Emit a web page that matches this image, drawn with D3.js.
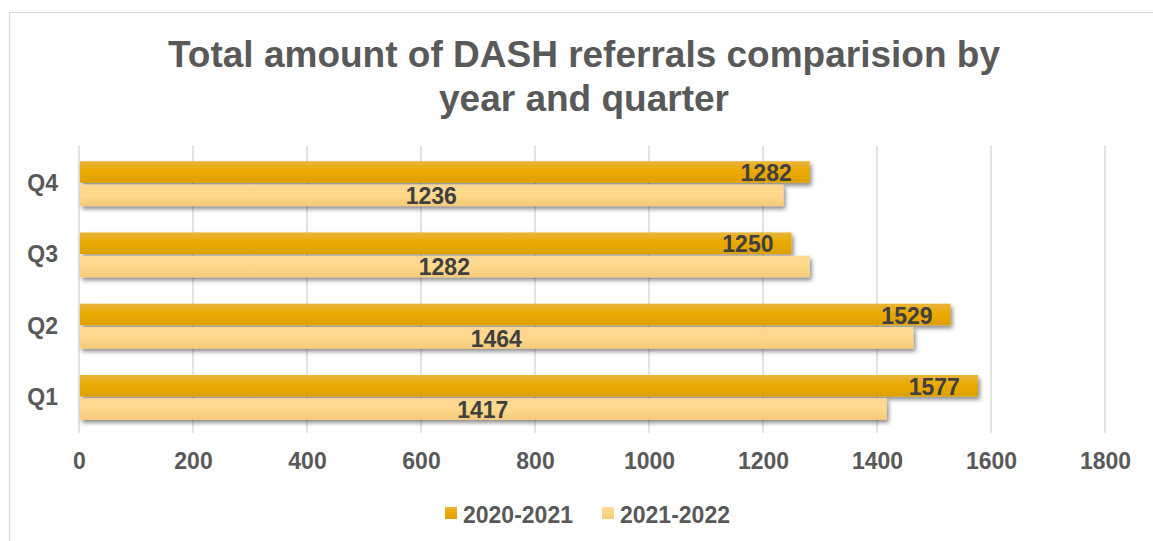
<!DOCTYPE html>
<html><head><meta charset="utf-8">
<script src="https://cdn.jsdelivr.net/npm/d3@7"></script>
<style>body{margin:0;background:#fff;font-family:Arial,"Liberation Sans",sans-serif;}</style>
</head><body>
<svg id="c" width="1153" height="541"></svg>
<script>
const categories = ["Q1","Q2","Q3","Q4"];
const seriesNames = ["2020-2021","2021-2022"];
const values2020 = [1577,1529,1250,1282];
const values2021 = [1417,1464,1282,1236];
const xTicks = [0,200,400,600,800,1000,1200,1400,1600,1800];
const titleLines = ["Total amount of DASH referrals comparision by","year and quarter"];

const FONT = "Arial,'Liberation Sans',sans-serif";
const svg = d3.select("#c");
const defs = svg.append("defs");
const f = defs.append("filter").attr("id","sh").attr("x","-5%").attr("y","-30%").attr("width","115%").attr("height","190%");
f.append("feDropShadow").attr("dx",2).attr("dy",3).attr("stdDeviation",2).attr("flood-color","#000").attr("flood-opacity",0.45);
const g1 = defs.append("linearGradient").attr("id","g1").attr("x1",0).attr("x2",0).attr("y1",0).attr("y2",1);
g1.append("stop").attr("offset","0%").attr("stop-color","#E9B43E");
g1.append("stop").attr("offset","45%").attr("stop-color","#EBAA00");
g1.append("stop").attr("offset","100%").attr("stop-color","#DDA000");
const g2 = defs.append("linearGradient").attr("id","g2").attr("x1",0).attr("x2",0).attr("y1",0).attr("y2",1);
g2.append("stop").attr("offset","0%").attr("stop-color","#FDD793");
g2.append("stop").attr("offset","50%").attr("stop-color","#FED88C");
g2.append("stop").attr("offset","100%").attr("stop-color","#F6CA78");
const fills = ["url(#g1)","url(#g2)"];

// chart border
svg.append("rect").attr("x",9.5).attr("y",12.5).attr("width",1160).attr("height",540)
  .attr("fill","none").attr("stroke","#d9d9d9").attr("stroke-width",1.2);

const x = d3.scaleLinear().domain([0,1800]).range([79,1105]);
const y = d3.scaleBand().domain(categories.slice().reverse()).range([148,433]).paddingInner(0.37).paddingOuter(0.185);
const ySub = d3.scaleBand().domain(seriesNames).range([0,y.bandwidth()]).paddingInner(0.07);

// title
svg.append("g").selectAll("text").data(titleLines).join("text")
  .attr("x",584).attr("y",(d,i)=>67+i*44).attr("text-anchor","middle")
  .attr("font-size",37).attr("font-weight","bold").attr("fill","#595959").text(d=>d);

// grid
svg.append("g").selectAll("line").data(xTicks).join("line")
  .attr("x1",d=>x(d)).attr("x2",d=>x(d)).attr("y1",146).attr("y2",433)
  .attr("stroke","#d9d9d9").attr("stroke-width",1.5);

// x axis labels
const xa = svg.append("g").attr("transform","translate(0,432)")
  .call(d3.axisBottom(x).tickValues(xTicks).tickSize(0).tickPadding(21).tickFormat(d3.format("d")));
xa.select(".domain").remove();
xa.selectAll("text").attr("font-size",23).attr("font-weight","bold").attr("fill","#595959").attr("font-family",FONT);

// y axis labels
const ya = svg.append("g").attr("transform","translate(79,0)")
  .call(d3.axisLeft(y).tickSize(0).tickPadding(21));
ya.select(".domain").remove();
ya.selectAll("text").attr("font-size",23).attr("font-weight","bold").attr("fill","#595959").attr("font-family",FONT);

const data = categories.map((c,i)=>({cat:c, vals:[values2020[i],values2021[i]]}));
const groups = svg.append("g").selectAll("g").data(data).join("g")
  .attr("transform",d=>`translate(0,${y(d.cat)})`);

groups.selectAll("rect").data(d=>d.vals.map((v,j)=>({v,s:seriesNames[j],j}))).join("rect")
  .attr("x",x(0)+1).attr("y",d=>ySub(d.s)).attr("height",ySub.bandwidth())
  .attr("width",d=>x(d.v)-x(0)-1).attr("fill",d=>fills[d.j]).attr("filter","url(#sh)");

groups.selectAll("text.lbl").data(d=>d.vals.map((v,j)=>({v,s:seriesNames[j],j}))).join("text")
  .attr("class","lbl")
  .attr("x",d=>d.j===0 ? x(d.v)-18 : (x(0)+x(d.v))/2)
  .attr("y",d=>ySub(d.s)+ySub.bandwidth()/2+9)
  .attr("text-anchor",d=>d.j===0?"end":"middle")
  .attr("font-size",23).attr("font-weight","bold").attr("fill","#404040").text(d=>d.v);

// legend
const leg = svg.append("g");
const legX = [445,602];
seriesNames.forEach((s,i)=>{
  leg.append("rect").attr("x",legX[i]).attr("y",507).attr("width",12).attr("height",12).attr("fill",fills[i]);
  leg.append("text").attr("x",legX[i]+18).attr("y",523).attr("font-size",23).attr("font-weight","bold").attr("fill","#595959").text(s);
});
</script>
</body></html>
